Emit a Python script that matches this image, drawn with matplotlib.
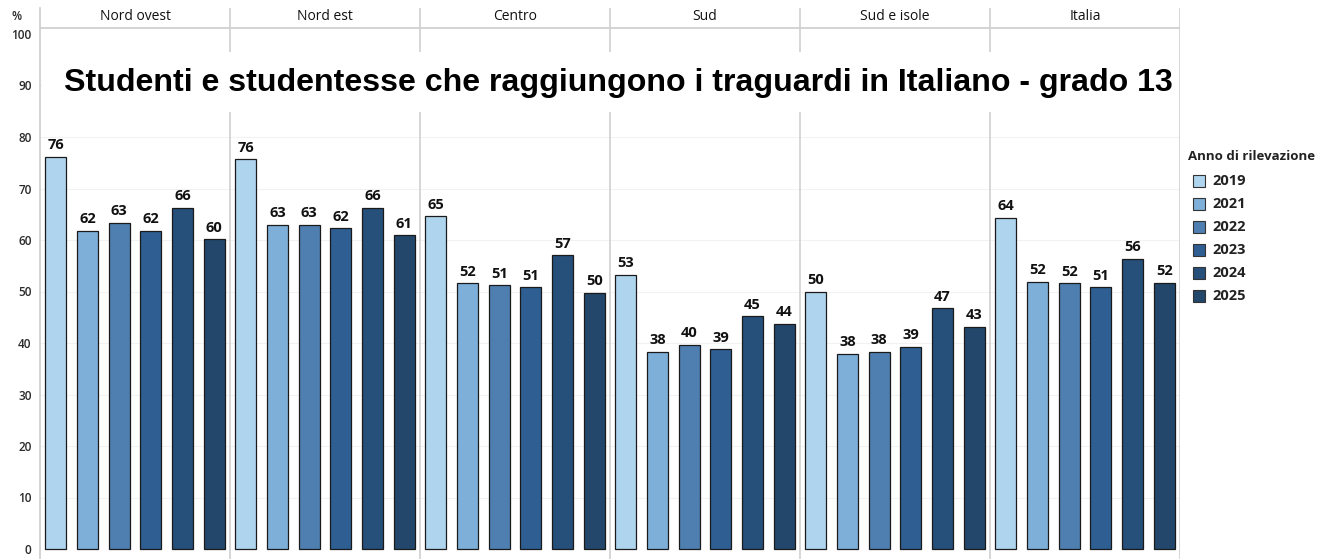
import matplotlib.pyplot as plt
from matplotlib.patches import Rectangle

regions = ["Nord ovest", "Nord est", "Centro", "Sud", "Sud e isole", "Italia"]
years = ["2019", "2021", "2022", "2023", "2024", "2025"]
colors = ["#aed4ee", "#7eafd9", "#4e7fb0", "#2e5e92", "#264f7a", "#22476a"]

# percentuali per regione, un valore per anno
nord_ovest = [76.2, 61.8, 63.3, 61.8, 66.2, 60.1]
nord_est = [75.7, 62.9, 62.9, 62.3, 66.2, 60.9]
centro = [64.6, 51.6, 51.2, 50.8, 57.0, 49.8]
sud = [53.3, 38.3, 39.6, 38.8, 45.2, 43.7]
sud_isole = [49.9, 37.9, 38.3, 39.3, 46.7, 43.2]
italia = [64.3, 51.9, 51.6, 50.8, 56.4, 51.7]
values = [nord_ovest, nord_est, centro, sud, sud_isole, italia]

title = "Studenti e studentesse che raggiungono i traguardi in Italiano - grado 13"

W, H = 1334, 559
fig = plt.figure(figsize=(W / 100, H / 100), dpi=100)
px = 5.15  # pixel per punto percentuale
y0 = 549
ax = fig.add_axes([40 / W, 0, 1140 / W, (H - 8) / H])
ax.set_xlim(0, 6)
ax.set_ylim(-(H - y0) / px, (y0 - 8) / px)

ax.set_yticks(range(0, 101, 10))
ax.tick_params(axis="y", length=0, pad=6, labelsize=8.5, labelcolor="#2a2a2a")
for lab in ax.get_yticklabels():
    lab.set_fontfamily("Open Sans")
    lab.set_fontweight("semibold")
ax.set_xticks([])
for s in ["top", "right", "bottom"]:
    ax.spines[s].set_visible(False)
ax.spines["left"].set_color("#cccccc")
ax.spines["left"].set_linewidth(1.2)

for v in range(10, 100, 10):
    ax.axhline(v, color="#f2f2f2", lw=0.8, zorder=0)
header_y = (y0 - 28) / px
ax.axhline(header_y, color="#cccccc", lw=1.2, zorder=1)
for i in range(1, 7):
    ax.axvline(i, color="#d0d0d0", lw=1.2, zorder=1)

step = 1 / 6
width = 0.111
for r, (reg, vals) in enumerate(zip(regions, values)):
    for k, v in enumerate(vals):
        x = r + step * (k + 0.5)
        ax.bar(x, v, width=width, color=colors[k], edgecolor="#1a1a1a",
               linewidth=0.9, zorder=2)
        ax.text(x, v + 0.9, f"{v:.0f}", ha="center", va="bottom",
                fontsize=10.5, fontweight="bold", color="#111111",
                family="Open Sans", zorder=3)
    ax.text(r + 0.5, (y0 - 17) / px, reg, ha="center", va="center",
            fontsize=10, color="#111111", family="Open Sans")

fig.text(17 / W, 1 - 17 / H, "%", ha="center", va="center", fontsize=8.5,
         color="#2a2a2a", family="Open Sans", fontweight="semibold")

# fascia bianca del titolo
fig.add_artist(Rectangle((42 / W, 1 - 112 / H), 1137 / W, 60 / H,
                         transform=fig.transFigure, facecolor="white",
                         edgecolor="none", zorder=5))
fig.text(618 / W, 1 - 83 / H, title, ha="center", va="center",
         fontsize=23.1, fontweight="bold", family="Liberation Sans",
         color="black", zorder=6)

# legenda
fig.text(1188 / W, 1 - 157 / H, "Anno di rilevazione", ha="left",
         va="center", fontsize=9.5, fontweight="bold", family="Open Sans",
         color="#222222")
for k, (yr, c) in enumerate(zip(years, colors)):
    yc = 181 + k * 23
    fig.add_artist(Rectangle((1193 / W, 1 - (yc + 6) / H), 12 / W, 12 / H,
                             transform=fig.transFigure, facecolor=c,
                             edgecolor="#333333", linewidth=0.8))
    fig.text(1212 / W, 1 - yc / H, yr, ha="left", va="center",
             fontsize=10.5, fontweight="bold", family="Open Sans",
             color="#222222")

fig.savefig("out.png", dpi=100)
